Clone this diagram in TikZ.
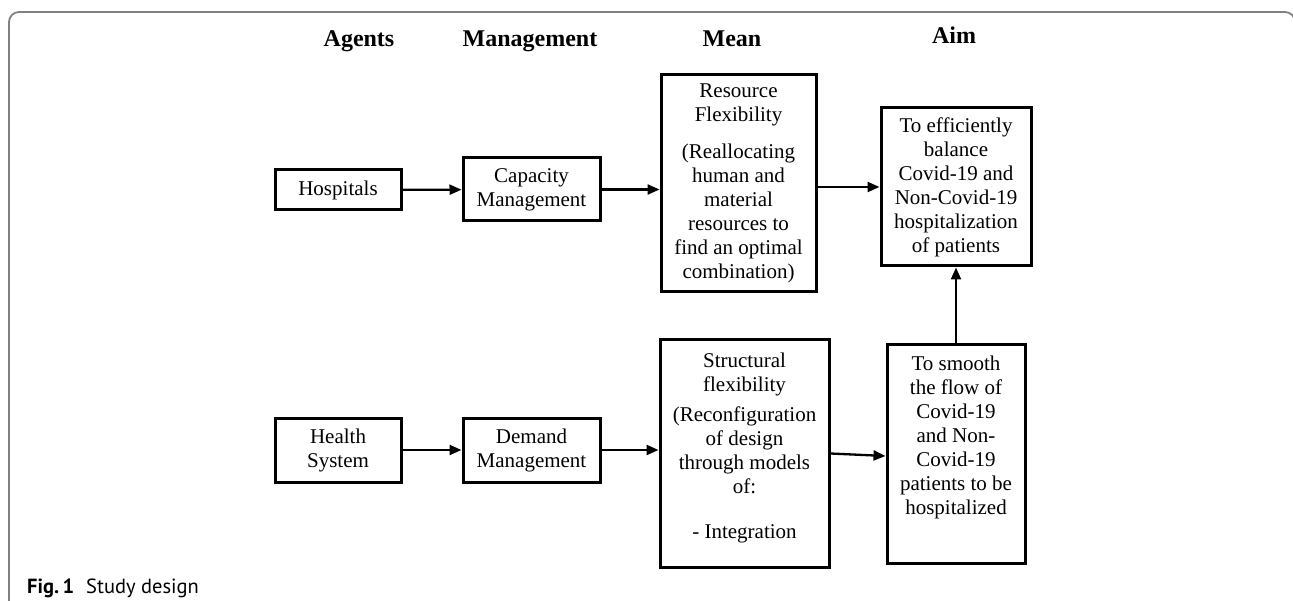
\documentclass[tikz,border=0pt]{standalone}
\usepackage{fontspec}
\setmainfont{Liberation Serif}
\newfontfamily\capfont{PT Sans}
\usetikzlibrary{arrows.meta,positioning}

\tikzset{
  box/.style={draw, line width=3pt, align=center, inner sep=0pt,
    font=\fontsize{21}{24}\selectfont},
  head/.style={anchor=base, font=\bfseries\fontsize{24}{28}\selectfont},
}

\begin{document}
\begin{tikzpicture}[x=1pt,y=-1pt,>={Triangle[length=12pt,width=10pt]}]

        \useasboundingbox (0,0) rectangle (1293,601);
        \draw[black!50, line width=1.8pt, rounded corners=10pt]
                (9,610) -- (9,12) -- (1295,12) -- (1295,40);

        % column heads
        \node[head]  (hAgents)  at (359,47)  {Agents};
        \node[head]  (hManage)  at (530,47)  {Management};
        \node[head]  (hMean)    at (732,47)  {Mean};
        \node[head]  (hAim)     at (954,44)  {Aim};

        % upper row
        \node[box, minimum width=126pt, minimum height=40pt]  (Hosp) at (338,190)   {Hospitals};
        \node[box, minimum width=137pt, minimum height=63pt]  (Cap)  at (531.5,189.5) {Capacity\\Management};
        \node[box, minimum width=155pt, minimum height=217pt] (Res)  at (738.5,183.5)
                {Resource\\Flexibility\\[13pt](Reallocating\\human and\\material\\resources to\\find an optimal\\combination)};
        \node[box, minimum width=150pt, minimum height=158pt] (Aim)  at (956,187)
                {To efficiently\\balance\\Covid-19 and\\Non-Covid-19\\hospitalization\\of patients};

        % lower row
        \node[box, minimum width=126pt, minimum height=64pt]  (Health) at (338,450)   {Health\\System};
        \node[box, minimum width=137pt, minimum height=64pt]  (Demand) at (531.5,450) {Demand\\Management};
        \node[box, minimum width=169pt, minimum height=227pt] (Struct) at (744.5,453.5)
                {Structural\\flexibility\\[6pt](Reconfiguration\\of design\\through models\\of:\\[21pt]- Integration\\[-8pt]\mbox{}};
        \node[box, minimum width=138pt, minimum height=218pt] (Smooth) at (956,454)
                {To smooth\\the flow of\\Covid-19\\and Non-\\Covid-19\\patients to be\\hospitalized\\[14pt]\mbox{}};

        \path[->, line width=2.3pt]
                  (Hosp)          edge (Cap)
                  (Cap.east)      edge (Cap.east -| Res.west)
                  (Res.east |- Aim.west) edge (Aim.west)
                  (Health)        edge (Demand)
                  (Demand.east)   edge (Demand.east -| Struct.west)
                  (Struct.east)   edge ([yshift=-2pt]Smooth.west)
                  (Smooth)        edge (Aim);

        % caption
        \node[anchor=base west, inner sep=0pt, font=\capfont\fontsize{20.5}{24}\selectfont]
                (fig) at (27,593) {\textbf{Fig.\,1}\hspace{12pt}Study design};
\end{tikzpicture}
\end{document}
